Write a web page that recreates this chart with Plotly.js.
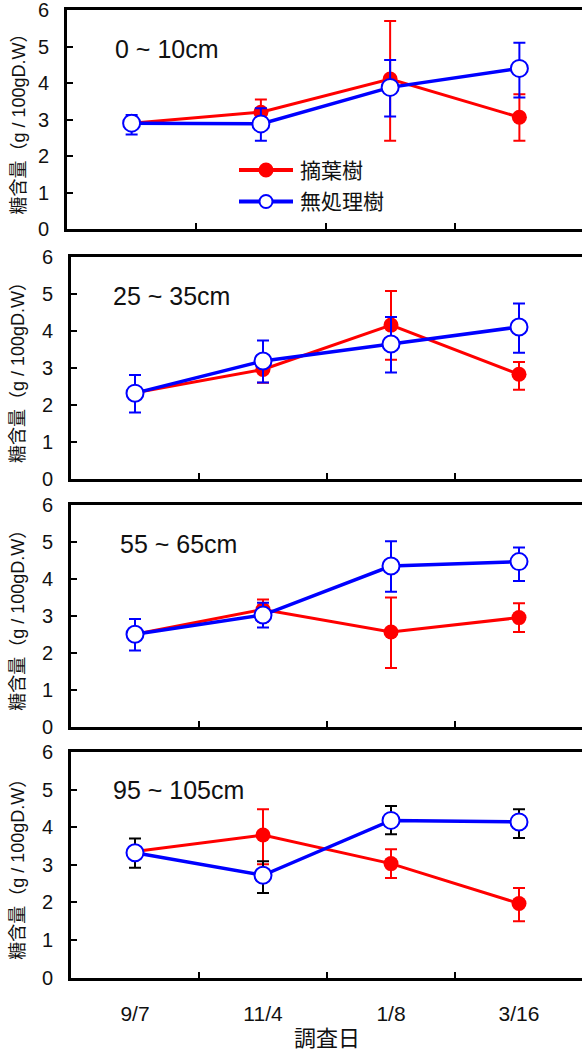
<!DOCTYPE html>
<html>
<head>
<meta charset="utf-8">
<script src="https://cdn.plot.ly/plotly-3.0.1.min.js"></script>
<style>
html,body{margin:0;padding:0;overflow:hidden;background:#fff;}
#chart{width:590px;height:1052px;}
</style>
</head>
<body>
<div id="chart"></div>
<script>
// ---- data ----
const categories = ['9/7', '11/4', '1/8', '3/16'];
const seriesNames = ['摘葉樹', '無処理樹'];
const depthLabels = ['0 ~ 10cm', '25 ~ 35cm', '55 ~ 65cm', '95 ~ 105cm'];
const yTitle = '糖含量（g / 100gD.W）';
const xTitle = '調査日';

// panel 1: 0~10cm
const p1Red = [2.90, 3.20, 4.11, 3.06];
const p1RedPlus = [0.10, 0.35, 1.59, 0.63];
const p1RedMinus = [0.10, 0.47, 1.69, 0.64];
const p1Blue = [2.90, 2.88, 3.88, 4.40];
const p1BluePlus = [0.22, 0.43, 0.75, 0.70];
const p1BlueMinus = [0.31, 0.46, 0.80, 0.80];

// panel 2: 25~35cm
const p2Red = [2.33, 2.96, 4.16, 2.83];
const p2RedPlus = [0.10, 0.39, 0.92, 0.33];
const p2RedMinus = [0.10, 0.36, 0.94, 0.42];
const p2Blue = [2.32, 3.19, 3.65, 4.11];
const p2BluePlus = [0.49, 0.55, 0.73, 0.63];
const p2BlueMinus = [0.52, 0.58, 0.77, 0.70];

// panel 3: 55~65cm
const p3Red = [2.50, 3.17, 2.56, 2.95];
const p3RedPlus = [0.10, 0.27, 0.93, 0.39];
const p3RedMinus = [0.10, 0.33, 0.97, 0.39];
const p3Blue = [2.50, 3.02, 4.34, 4.46];
const p3BluePlus = [0.41, 0.33, 0.67, 0.38];
const p3BlueMinus = [0.44, 0.34, 0.69, 0.52];

// panel 4: 95~105cm
const p4Red = [3.35, 3.79, 3.03, 1.97];
const p4RedPlus = [0.10, 0.69, 0.38, 0.41];
const p4RedMinus = [0.10, 0.78, 0.38, 0.47];
const p4Blue = [3.32, 2.72, 4.18, 4.14];
const p4BluePlus = [0.38, 0.37, 0.38, 0.34];
const p4BlueMinus = [0.40, 0.47, 0.37, 0.43];

const yTickVals = [0, 1, 2, 3, 4, 5, 6];

// ---- layout geometry (pixels) ----
const W = 590, H = 1052;
const LATIN = 'Liberation Sans, Arial, sans-serif';
const CJK = 'Liberation Sans, "Noto Sans CJK JP", sans-serif';
const RED = '#ff0000', BLUE = '#0000ff';
const px = v => v / W;
const py = v => 1 - v / H;

const panels = [
  {red: p1Red, rp: p1RedPlus, rm: p1RedMinus, blue: p1Blue, bp: p1BluePlus, bm: p1BlueMinus, bErr: BLUE,
   xL: 67, xR: 584, yT: 10, yB: 229, lab: {x: 113, y: 49}},
  {red: p2Red, rp: p2RedPlus, rm: p2RedMinus, blue: p2Blue, bp: p2BluePlus, bm: p2BlueMinus, bErr: BLUE,
   xL: 71, xR: 583, yT: 257, yB: 479, lab: {x: 111, y: 296}},
  {red: p3Red, rp: p3RedPlus, rm: p3RedMinus, blue: p3Blue, bp: p3BluePlus, bm: p3BlueMinus, bErr: BLUE,
   xL: 71, xR: 583, yT: 504.5, yB: 727, lab: {x: 118, y: 544}},
  {red: p4Red, rp: p4RedPlus, rm: p4RedMinus, blue: p4Blue, bp: p4BluePlus, bm: p4BlueMinus, bErr: '#000000',
   xL: 71, xR: 583, yT: 752, yB: 977.5, lab: {x: 111, y: 790}}
];

const data = [];
const layout = {
  width: W, height: H,
  margin: {l: 0, r: 0, t: 0, b: 0},
  paper_bgcolor: '#ffffff', plot_bgcolor: '#ffffff',
  showlegend: false,
  annotations: [],
  shapes: []
};

panels.forEach((p, i) => {
  const n = i === 0 ? '' : String(i + 1);
  const xa = 'x' + n, ya = 'y' + n;
  data.push({
    x: categories, y: p.red, xaxis: xa, yaxis: ya, type: 'scatter', mode: 'lines+markers',
    name: seriesNames[0],
    line: {color: RED, width: 3},
    marker: {color: RED, size: 15, symbol: 'circle', line: {width: 0}},
    error_y: {type: 'data', symmetric: false, array: p.rp, arrayminus: p.rm, color: RED, thickness: 2, width: 6}
  });
  data.push({
    x: categories, y: p.blue, xaxis: xa, yaxis: ya, type: 'scatter', mode: 'lines+markers',
    name: seriesNames[1],
    line: {color: BLUE, width: 3.5},
    marker: {color: '#ffffff', size: 17, symbol: 'circle', line: {color: BLUE, width: 2}},
    error_y: {type: 'data', symmetric: false, array: p.bp, arrayminus: p.bm, color: p.bErr, thickness: 2, width: 6}
  });
  layout['xaxis' + n] = {
    domain: [px(p.xL), px(p.xR)], anchor: ya,
    type: 'category', categoryorder: 'array', categoryarray: categories,
    range: [-0.5, 3.5], fixedrange: true,
    showline: true, linecolor: '#000', linewidth: 3, mirror: true,
    ticks: 'inside', tickson: 'boundaries', ticklen: 6, tickwidth: 2, tickcolor: '#000',
    showticklabels: i === 3, showgrid: false, zeroline: false,
    ticklabelstandoff: 15, ticklabeloverflow: 'allow',
    tickfont: {family: LATIN, size: 21, color: '#111'}
  };
  layout['yaxis' + n] = {
    domain: [py(p.yB), py(p.yT)], anchor: xa,
    range: [0, 6], tickvals: yTickVals, fixedrange: true,
    showline: true, linecolor: '#000', linewidth: 3, mirror: true,
    ticks: 'inside', ticklen: 6, tickwidth: 2, tickcolor: '#000',
    showgrid: false, zeroline: false,
    ticklabelstandoff: 11, ticklabeloverflow: 'allow',
    tickfont: {family: LATIN, size: 20, color: '#111'}
  };
  layout.annotations.push({
    xref: 'paper', yref: 'paper', x: px(p.lab.x), y: py(p.lab.y),
    xanchor: 'left', yanchor: 'middle', showarrow: false,
    text: depthLabels[i], font: {family: LATIN, size: 25, color: '#111'}
  });
  layout.annotations.push({
    xref: 'paper', yref: 'paper', x: px(18), y: py((p.yT + p.yB) / 2),
    xanchor: 'center', yanchor: 'middle', showarrow: false, textangle: -90,
    text: yTitle, font: {family: CJK, size: 18, color: '#111'}
  });
});

// x axis title
layout.annotations.push({
  xref: 'paper', yref: 'paper', x: px(327), y: py(1038),
  xanchor: 'center', yanchor: 'middle', showarrow: false,
  text: xTitle, font: {family: CJK, size: 22, color: '#111'}
});

// custom legend (panel 1)
const legendRows = [
  {name: seriesNames[0], y: 170, color: RED, fill: RED, r: 6.5},
  {name: seriesNames[1], y: 201.5, color: BLUE, fill: '#ffffff', r: 6.5}
];
legendRows.forEach(row => {
  layout.shapes.push({
    type: 'line', xref: 'paper', yref: 'paper',
    x0: px(239), x1: px(293), y0: py(row.y), y1: py(row.y),
    line: {color: row.color, width: 4}
  });
  layout.shapes.push({
    type: 'circle', xref: 'paper', yref: 'paper',
    x0: px(266 - row.r), x1: px(266 + row.r), y0: py(row.y + row.r), y1: py(row.y - row.r),
    fillcolor: row.fill, line: {color: row.color, width: 2}
  });
  layout.annotations.push({
    xref: 'paper', yref: 'paper', x: px(298), y: py(row.y),
    xanchor: 'left', yanchor: 'middle', showarrow: false,
    text: row.name, font: {family: CJK, size: 21, color: '#111'}
  });
});

Plotly.newPlot('chart', data, layout, {staticPlot: true, displayModeBar: false});
</script>
</body>
</html>
